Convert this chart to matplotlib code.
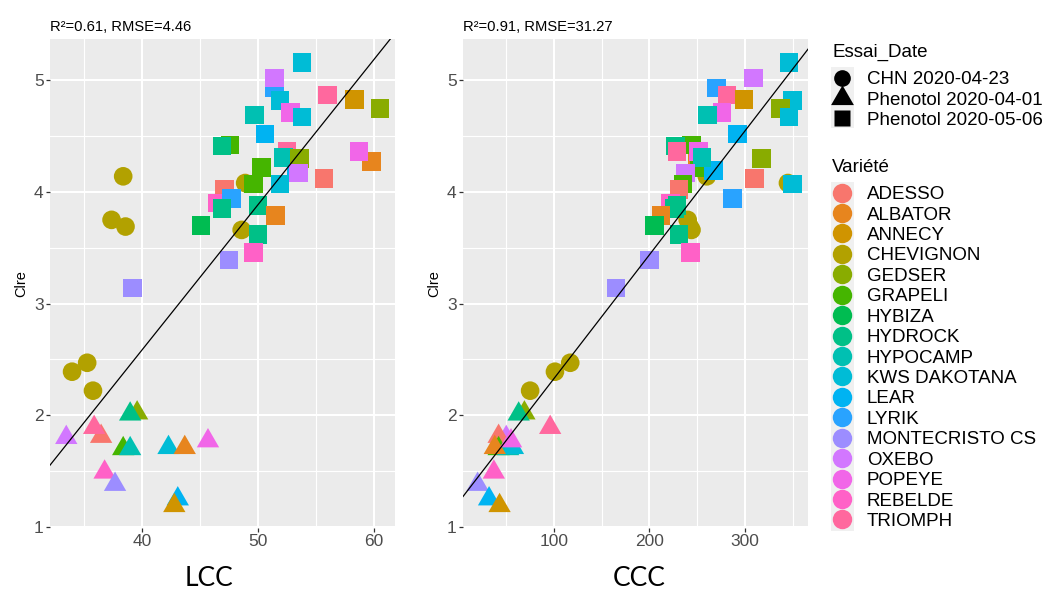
import numpy as np
import matplotlib
matplotlib.use("Agg")
import matplotlib.pyplot as plt
from matplotlib.lines import Line2D
from matplotlib.path import Path
from matplotlib.patches import Rectangle

plt.rcParams['font.family'] = ['Liberation Sans', 'DejaVu Sans']

# ---------------- data ----------------
varieties = ["ADESSO", "ALBATOR", "ANNECY", "CHEVIGNON", "GEDSER", "GRAPELI",
             "HYBIZA", "HYDROCK", "HYPOCAMP", "KWS DAKOTANA", "LEAR", "LYRIK",
             "MONTECRISTO CS", "OXEBO", "POPEYE", "REBELDE", "TRIOMPH"]
essais = ["CHN 2020-04-23", "Phenotol 2020-04-01", "Phenotol 2020-05-06"]

# CHN 2020-04-23 (circles)
chn_var = ["CHEVIGNON"] * 8
chn_clre = [4.14, 4.08, 3.75, 3.69, 3.66, 2.39, 2.47, 2.22]
chn_lcc = [38.4, 48.9, 37.4, 38.6, 48.6, 34.0, 35.3, 35.8]
chn_ccc = [260, 345, 240, 242, 244, 101, 117, 75]

# Phenotol 2020-04-01 (triangles)
t_var = ["OXEBO", "ADESSO", "TRIOMPH", "GEDSER", "HYDROCK", "GRAPELI", "HYPOCAMP",
         "KWS DAKOTANA", "ALBATOR", "POPEYE", "REBELDE", "MONTECRISTO CS", "LEAR", "ANNECY"]
t_clre = [1.80, 1.81, 1.89, 2.02, 2.01, 1.70, 1.70, 1.71, 1.71, 1.77, 1.49, 1.38, 1.25, 1.19]
t_lcc = [33.5, 36.5, 35.9, 39.6, 39.0, 38.4, 39.0, 42.3, 43.7, 45.7, 36.8, 37.7, 43.1, 42.8]
t_ccc = [50, 42, 96, 69, 63, 42, 52, 57, 38, 55, 37, 20, 32, 43]

# Phenotol 2020-05-06 (squares)
s_var = ["ALBATOR", "GRAPELI", "LEAR", "LYRIK", "OXEBO", "KWS DAKOTANA", "TRIOMPH",
         "ANNECY", "KWS DAKOTANA", "GEDSER", "POPEYE", "KWS DAKOTANA", "HYPOCAMP", "LEAR",
         "GRAPELI", "HYDROCK", "TRIOMPH", "POPEYE", "HYPOCAMP", "GEDSER", "OXEBO",
         "ADESSO", "KWS DAKOTANA", "GRAPELI", "ADESSO", "REBELDE", "LYRIK", "HYDROCK",
         "HYDROCK", "ALBATOR", "HYBIZA", "HYDROCK", "REBELDE", "MONTECRISTO CS",
         "MONTECRISTO CS"]
s_clre = [4.27, 4.22, 4.19, 4.93, 5.02, 5.16, 4.87, 4.83, 4.82, 4.75, 4.71, 4.67,
          4.69, 4.52, 4.42, 4.41, 4.36, 4.36, 4.31, 4.30, 4.17, 4.12, 4.07, 4.07,
          4.02, 3.90, 3.94, 3.85, 3.88, 3.79, 3.70, 3.62, 3.46, 3.39, 3.14]
s_lcc = [59.8, 50.3, 53.3, 51.4, 51.4, 53.8, 56.0, 58.3, 51.9, 60.5, 52.8, 53.8,
         49.7, 50.6, 47.6, 46.9, 52.5, 58.7, 52.2, 53.6, 53.5, 55.7, 51.9, 49.6,
         47.1, 46.5, 47.7, 46.9, 50.0, 51.5, 45.1, 50.0, 49.6, 47.5, 39.2]
s_ccc = [250, 252, 267, 270, 309, 346, 281, 299, 350, 337, 276, 346,
         261, 292, 244, 227, 229, 251, 255, 317, 238, 310, 350, 235,
         231, 222, 287, 226, 229, 212, 205, 231, 243, 200, 165]

# regression lines (slope, intercept) and panel annotations
fit_lcc = (0.1303, -2.63)
fit_ccc = (0.01109, 1.22)
title_lcc = "R²=0.61, RMSE=4.46"
title_ccc = "R²=0.91, RMSE=31.27"

# ---------------- colours (ggplot2 hue palette) ----------------
def hcl_hex(h, c=100.0, l=65.0):
    hr = np.deg2rad(h)
    U, V = c * np.cos(hr), c * np.sin(hr)
    Xn, Yn, Zn = 95.047, 100.0, 108.883
    Y = Yn * ((l + 16) / 116) ** 3
    den = Xn + 15 * Yn + 3 * Zn
    un, vn = 4 * Xn / den, 9 * Yn / den
    u = U / (13 * l) + un
    v = V / (13 * l) + vn
    X = 9.0 * Y * u / (4 * v)
    Z = -X / 3 - 5 * Y + 3 * Y / v
    M = np.array([[3.240479, -1.537150, -0.498535],
                  [-0.969256, 1.875992, 0.041556],
                  [0.055648, -0.204043, 1.057311]])
    rgb = M @ (np.array([X, Y, Z]) / 100.0)
    rgb = np.where(rgb <= 0.0031308, 12.92 * rgb, 1.055 * np.abs(rgb) ** (1 / 2.4) - 0.055)
    return tuple(np.clip(rgb, 0, 1))

n = len(varieties)
hues = np.linspace(15, 375, n + 1)[:n]
cmap = {v: hcl_hex(h) for v, h in zip(varieties, hues)}

tri = Path([(-1, -0.577), (1, -0.577), (0, 1.155), (-1, -0.577)],
           [Path.MOVETO, Path.LINETO, Path.LINETO, Path.CLOSEPOLY])

# ---------------- figure ----------------
W, H = 1048, 596
fig = plt.figure(figsize=(W / 100, H / 100), dpi=100)

def px_axes(x0, y0, x1, y1):
    return fig.add_axes([x0 / W, 1 - y1 / H, (x1 - x0) / W, (y1 - y0) / H])

axL = px_axes(50, 39, 395, 528)
axR = px_axes(463, 39, 808, 528)

panels = [
    (axL, chn_lcc, t_lcc, s_lcc, fit_lcc, title_lcc, "LCC", (32.1, 61.8),
     [40, 50, 60], [35, 45, 55], 0.461),
    (axR, chn_ccc, t_ccc, s_ccc, fit_ccc, title_ccc, "CCC", (4.7, 366),
     [100, 200, 300], [50, 150, 250, 350], 0.51),
]

for ax, cx, tx, sx, fit, title, xlab, xlim, xmaj, xmin, xlc in panels:
    ax.set_facecolor("#EBEBEB")
    for sp in ax.spines.values():
        sp.set_visible(False)
    ax.set_xlim(*xlim)
    ax.set_ylim(0.99, 5.37)
    ax.set_xticks(xmaj)
    ax.set_xticks(xmin, minor=True)
    ax.set_yticks([1, 2, 3, 4, 5])
    ax.set_yticks([1.5, 2.5, 3.5, 4.5], minor=True)
    ax.grid(which="major", color="white", lw=1.5)
    ax.grid(which="minor", color="white", lw=0.8)
    ax.set_axisbelow(True)
    ax.tick_params(which="major", length=3, width=0.9, color="#333333",
                   labelcolor="#4D4D4D", labelsize=12.5, pad=1.5)
    ax.tick_params(which="minor", length=0)

    ax.scatter(cx, chn_clre, marker="o", s=180, c=[cmap[v] for v in chn_var],
               linewidths=0, zorder=3)
    ax.scatter(tx, t_clre, marker=tri, s=345, c=[cmap[v] for v in t_var],
               linewidths=0, zorder=3)
    ax.scatter(sx, s_clre, marker="s", s=180, c=[cmap[v] for v in s_var],
               linewidths=0, zorder=3)

    xs = np.array(xlim)
    ax.plot(xs, fit[0] * xs + fit[1], color="black", lw=0.9, zorder=4)

    ax.set_title(title, loc="left", fontsize=10.6, pad=6)
    ax.set_ylabel("Clre", fontsize=10.5)
    ax.yaxis.set_label_coords(-0.062, 0.5)
    ax.set_xlabel(xlab, fontsize=19, family=["Lato", "DejaVu Sans"])
    ax.xaxis.set_label_coords(xlc, -0.077)

# ---------------- legends ----------------
LFS = 13.5
# light-grey key backgrounds
for (x0, y0, x1, y1) in [(831, 67, 854, 128), (831, 182, 854, 531)]:
    fig.patches.append(Rectangle((x0 / W, 1 - y1 / H), (x1 - x0) / W, (y1 - y0) / H,
                                 transform=fig.transFigure, facecolor="#F0F0F0",
                                 edgecolor="none", zorder=0))

fig.text(832 / W, 1 - 52 / H, "Essai_Date", fontsize=LFS, va="center", ha="left")
fig.text(832 / W, 1 - 167 / H, "Variété", fontsize=LFS, va="center", ha="left")

shape_handles = [
    Line2D([], [], ls="none", marker="o", ms=12, color="black", mec="none"),
    Line2D([], [], ls="none", marker=tri, ms=19, color="black", mec="none"),
    Line2D([], [], ls="none", marker="s", ms=11, color="black", mec="none"),
]
common = dict(loc="upper left", frameon=False, fontsize=LFS, handlelength=1.2,
              handletextpad=0.72, labelspacing=0.176, borderpad=0, borderaxespad=0)
leg1 = fig.legend(shape_handles, essais, bbox_to_anchor=(831 / W, 1 - 71 / H), **common)
var_handles = [Line2D([], [], ls="none", marker="o", ms=14, color=cmap[v], mec="none")
               for v in varieties]
leg2 = fig.legend(var_handles, varieties, bbox_to_anchor=(831 / W, 1 - 186 / H), **common)

fig.savefig("out.png", dpi=100)
